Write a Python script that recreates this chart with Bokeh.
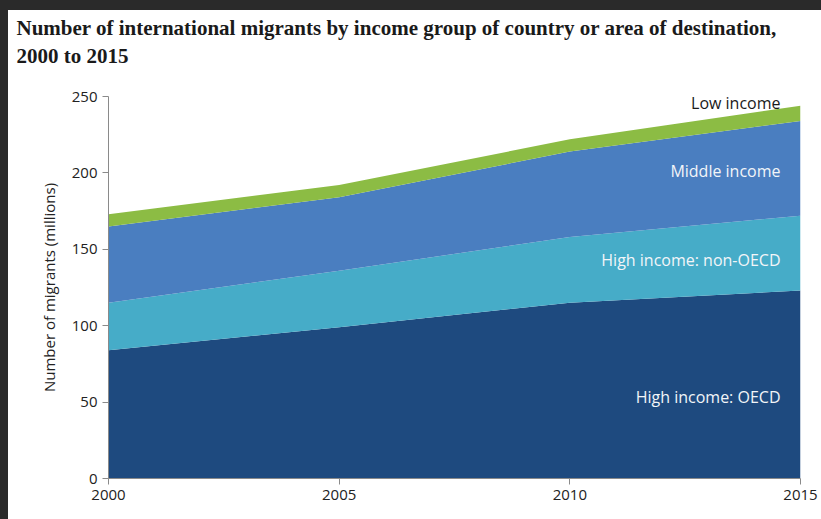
from bokeh.plotting import figure
from bokeh.models import Range1d, FixedTicker, ColumnDataSource
from bokeh.embed import file_html
from bokeh.resources import INLINE
from bokeh.core.properties import value

# ---- data (millions of migrants) ----
years = [2000, 2005, 2010, 2015]
high_oecd = [84, 99, 115, 123]
high_non_oecd = [31, 37, 43, 49]
middle_income = [50, 48, 56, 62]
low_income = [8, 8, 8, 10]
series_names = ["High income: OECD", "High income: non-OECD", "Middle income", "Low income"]
y_ticks = [0, 50, 100, 150, 200, 250]
x_ticks = [2000, 2005, 2010, 2015]
title_lines = ["Number of international migrants by income group of country or area of destination,",
               "2000 to 2015"]

# ---- styles ----
colors = ["#1e4a7f", "#46acc8", "#4a7ec0", "#8cbc44"]
label_colors = ["#f2f5f8", "#f2f5f8", "#f2f5f8", "#1a1a1a"]
label_y = [53.5, 143, 201.5, 246]
sans = "Open Sans"

source = ColumnDataSource(dict(year=years, oecd=high_oecd, non_oecd=high_non_oecd,
                               middle=middle_income, low=low_income))

p = figure(width=813, height=509, output_backend="svg", toolbar_location=None,
           x_range=Range1d(2000, 2015), y_range=Range1d(0, 250),
           min_border_left=100, min_border_right=21, min_border_top=86, min_border_bottom=41)
p.outline_line_color = None
p.background_fill_color = "white"
p.border_fill_color = "white"
p.xgrid.visible = False
p.ygrid.visible = False

p.varea_stack(stackers=["oecd", "non_oecd", "middle", "low"], x="year",
              color=colors, source=source)

p.text(x=[2015] * 4, y=label_y, text=series_names, text_align="right",
       text_baseline="middle", x_offset=-20, text_color=label_colors,
       text_font=value(sans), text_font_size="16px")

# two-line title; a blank third line lifts it away from the frame
p.title.text = "\n".join(title_lines) + "\n "
p.title.text_font = "Liberation Serif"
p.title.text_font_size = "21px"
p.title.text_font_style = "bold"
p.title.text_color = "#1a1a1a"
p.title.text_line_height = 1.15
p.title.offset = -92
p.title.standoff = 2

for ax in (p.xaxis[0], p.yaxis[0]):
    ax.axis_line_color = "#8a8a8a"
    ax.major_tick_line_color = "#8a8a8a"
    ax.minor_tick_line_color = None
    ax.major_tick_in = 0
    ax.major_tick_out = 6
    ax.major_label_text_font = sans
    ax.major_label_text_font_size = "15px"
    ax.major_label_text_color = "#222222"

p.xaxis.ticker = FixedTicker(ticks=x_ticks)
p.yaxis.ticker = FixedTicker(ticks=y_ticks)
p.yaxis.axis_label = "Number of migrants (millions)"
p.yaxis.axis_label_text_font = sans
p.yaxis.axis_label_text_font_size = "15px"
p.yaxis.axis_label_text_font_style = "normal"
p.yaxis.axis_label_text_color = "#222222"
p.yaxis.axis_label_standoff = 10

html = file_html(p, INLINE)
html = html.replace("<html", '<html style="overflow:hidden;background:white;"', 1)
html = html.replace("<body>", '<body style="margin:0;background:white;border-top:10px solid #2a2a2a;'
                              'border-left:8px solid #2a2a2a;overflow:hidden;">')
open("out.html", "w").write(html)
